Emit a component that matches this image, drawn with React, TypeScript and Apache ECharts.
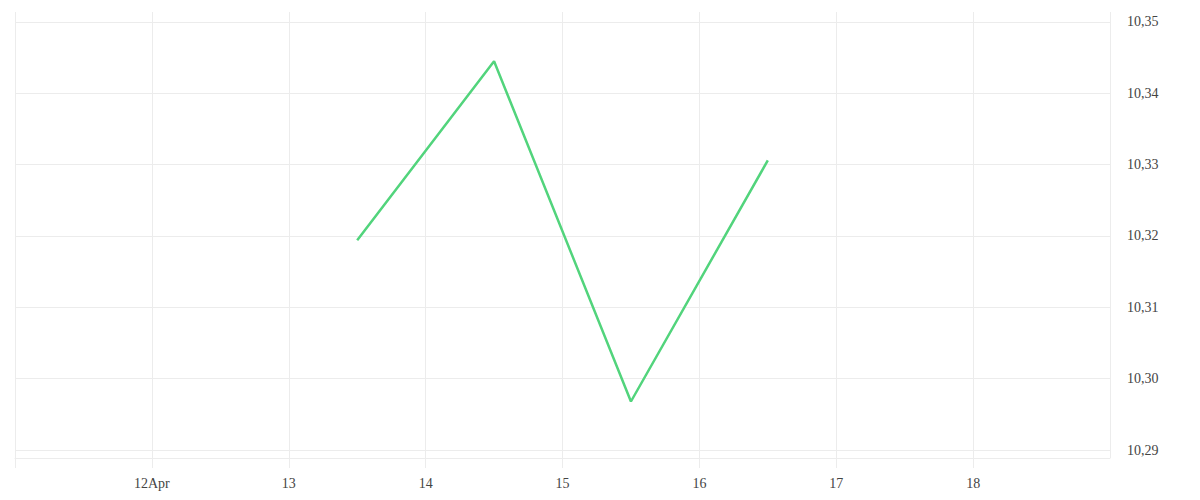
import { useEffect, useRef } from 'react';
import * as echarts from 'echarts';

const DAY = 24 * 3600 * 1000;

// Price samples (noon of each day, April)
const pointDays = [13, 14, 15, 16];
const pointValues = [10.3194, 10.3445, 10.2968, 10.3306];

// Visible window and tick labels
const xMinDay = 11;
const xMaxDay = 19;
const xTickDays = [12, 13, 14, 15, 16, 17, 18];
const xTickLabels = ['12Apr', '13', '14', '15', '16', '17', '18'];
const yMin = 10.28888;
const yMax = 10.3514;

const YEAR = 2024;
const MONTH = 3; // April, 0-based
const dayTime = (d: number) => Date.UTC(YEAR, MONTH, d);

export default function App() {
  const el = useRef<HTMLDivElement>(null);

  useEffect(() => {
    if (!el.current) return;
    const chart = echarts.init(el.current, undefined, { renderer: 'svg' });
    const font = '"Liberation Serif", serif';
    const gridColor = '#ececec';

    chart.setOption({
      animation: false,
      useUTC: true,
      textStyle: { fontFamily: font },
      grid: { left: 15, right: 90, top: 12, bottom: 42, containLabel: false },
      xAxis: {
        type: 'time',
        min: dayTime(xMinDay),
        max: dayTime(xMaxDay),
        splitNumber: 8,
        maxInterval: DAY,
        minInterval: DAY,
        axisLine: { show: true, lineStyle: { color: gridColor, width: 1 } },
        axisTick: { show: true, length: 10, lineStyle: { color: gridColor } },
        splitLine: { show: true, lineStyle: { color: gridColor, width: 1 } },
        axisLabel: {
          color: '#444',
          fontFamily: font,
          fontSize: 14,
          margin: 18,
          hideOverlap: false,
          formatter: (v: number) => {
            const d = new Date(v);
            if (d.getUTCHours() !== 0) return '';
            const i = xTickDays.indexOf(d.getUTCDate());
            return i >= 0 ? xTickLabels[i] : '';
          },
        },
      },
      yAxis: {
        type: 'value',
        position: 'right',
        min: yMin,
        max: yMax,
        minInterval: 0.01,
        maxInterval: 0.01,
        axisLine: { show: false },
        axisTick: { show: false },
        splitLine: { show: true, showMaxLine: false, lineStyle: { color: gridColor, width: 1 } },
        axisLabel: {
          color: '#444',
          fontFamily: font,
          fontSize: 14,
          margin: 17,
          showMinLabel: false,
          showMaxLabel: false,
          formatter: (v: number) => v.toFixed(2).replace('.', ','),
        },
      },
      series: [
        {
          type: 'line',
          data: pointDays.map((d, i) => [dayTime(d) + DAY / 2, pointValues[i]]),
          showSymbol: false,
          symbol: 'none',
          lineStyle: { color: '#52d47c', width: 2.5 },
          itemStyle: { color: '#52d47c' },
        },
      ],
    });

    return () => chart.dispose();
  }, []);

  return (
    <div
      ref={el}
      style={{ position: 'fixed', left: 0, top: 0, width: 1200, height: 500, background: '#fff' }}
    />
  );
}
